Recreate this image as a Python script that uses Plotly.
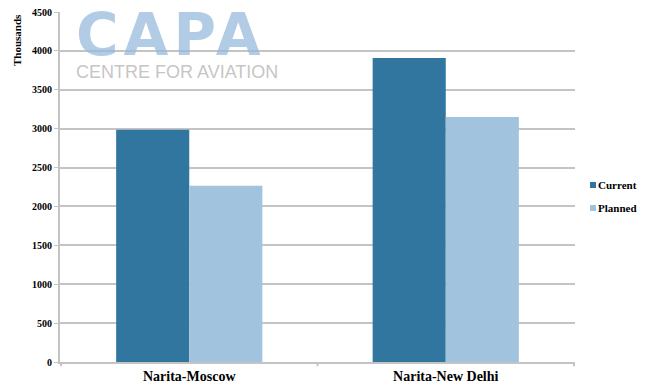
import plotly.graph_objects as go

categories = ["Narita-Moscow", "Narita-New Delhi"]
current = [2985, 3910]
planned = [2265, 3150]
series_names = ["Current", "Planned"]
series_colors = ["#31769F", "#A2C3DE"]
y_ticks = [0, 500, 1000, 1500, 2000, 2500, 3000, 3500, 4000, 4500]

serif = "Liberation Serif, Times New Roman, serif"
W, H = 646, 390
L, R, T, B = 60, 71, 12, 28
PW, PH = W - L - R, H - T - B


def px_x(sx):
    return (sx - L) / PW


def px_y(sy):
    return (H - B - sy) / PH


fig = go.Figure()
for name, vals, col in zip(series_names, [current, planned], series_colors):
    fig.add_trace(go.Bar(x=categories, y=vals, name=name, marker_color=col,
                         marker_line_width=0, showlegend=False))

fig.update_layout(
    width=W, height=H,
    margin=dict(l=L, r=R, t=T, b=B, autoexpand=False),
    paper_bgcolor="white", plot_bgcolor="white",
    barmode="group", bargap=0.43, bargroupgap=0,
    font=dict(family=serif, size=12, color="black"),
    showlegend=False,
)
fig.update_yaxes(range=[0, 4500], tickvals=y_ticks, showgrid=True,
                 gridcolor="#C4C4C4", gridwidth=2,
                 showline=True, linecolor="#C4C4C4", linewidth=2,
                 ticks="outside", ticklen=4, tickcolor="#C4C4C4",
                 tickfont=dict(family=serif, size=10, color="black", weight="bold"),
                 zeroline=False)
fig.update_xaxes(showline=True, linecolor="#C4C4C4", linewidth=2,
                 ticks="", tickfont=dict(family=serif, size=14, color="black", weight="bold"))

# category separator ticks on x axis
for xv in [-0.5, 0.5, 1.5]:
    fig.add_shape(type="line", xref="x", yref="paper", x0=xv, x1=xv, y0=0, y1=-0.012,
                  line=dict(color="#C4C4C4", width=2))

fig.add_annotation(text="<b>Thousands</b>", xref="paper", yref="paper", x=px_x(17), y=px_y(12),
                   xanchor="center", yanchor="top", textangle=-90, showarrow=False,
                   font=dict(family=serif, size=11, color="black"))

# legend drawn manually
for i, (name, col) in enumerate(zip(series_names, series_colors)):
    cy = 185 + 23 * i
    fig.add_shape(type="rect", xref="paper", yref="paper",
                  x0=px_x(590), x1=px_x(596), y0=px_y(cy + 3), y1=px_y(cy - 3),
                  fillcolor=col, line=dict(width=0))
    fig.add_annotation(text="<b>%s</b>" % name, xref="paper", yref="paper",
                       x=px_x(596), y=px_y(cy), xanchor="left", yanchor="middle",
                       showarrow=False, font=dict(family=serif, size=11, color="black"))

# watermark logo (single text block)
logo = ("<span style='font-family:DejaVu Sans;font-size:58px;letter-spacing:5px;"
        "color:rgba(150,185,220,0.8)'><b>CAPA</b></span><br>CENTRE FOR AVIATION")
fig.add_annotation(text=logo, xref="paper", yref="paper", x=px_x(74), y=px_y(84),
                   xanchor="left", yanchor="bottom", align="left", showarrow=False,
                   font=dict(family="Liberation Sans", size=18, color="rgba(190,190,190,0.9)"))

fig.write_html("out.html", config={"displayModeBar": False},
               post_script="document.body.style.margin='0px';")
